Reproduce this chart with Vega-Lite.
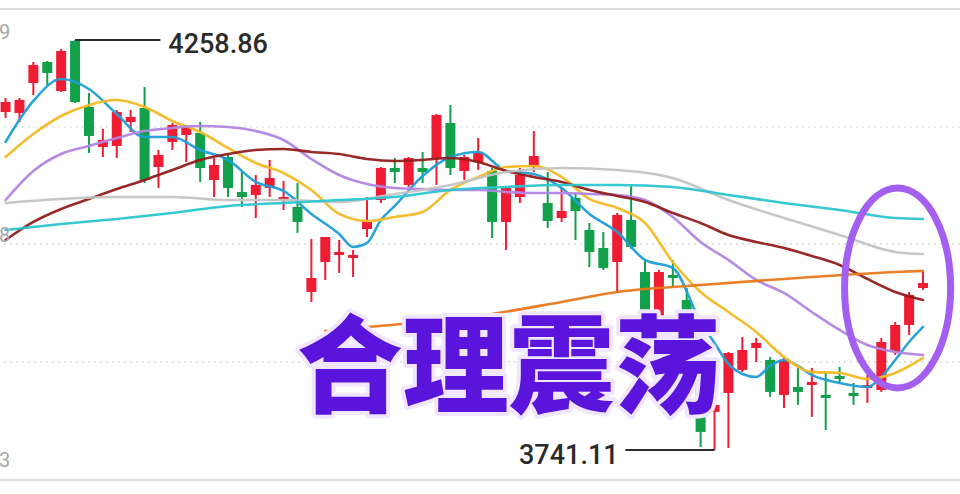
{
  "$schema": "https://vega.github.io/schema/vega-lite/v6.json",
  "width": 960,
  "height": 494,
  "autosize": {"type": "none"},
  "padding": 0,
  "background": "white",
  "config": {"view": {"stroke": null}},
  "datasets": {
    "candles": [
      {"i":0,"o":4168.0,"c":4180.6,"h":4185.6,"l":4160.4},
      {"i":1,"o":4166.7,"c":4183.1,"h":4185.6,"l":4155.3},
      {"i":2,"o":4204.6,"c":4227.3,"h":4231.1,"l":4189.4},
      {"i":3,"o":4231.1,"c":4217.2,"h":4232.4,"l":4202.1},
      {"i":4,"o":4194.5,"c":4245.0,"h":4247.5,"l":4193.2},
      {"i":5,"o":4257.6,"c":4180.6,"h":4258.86,"l":4179.3},
      {"i":6,"o":4174.3,"c":4137.7,"h":4192.0,"l":4116.2},
      {"i":7,"o":4123.8,"c":4132.6,"h":4146.5,"l":4111.1},
      {"i":8,"o":4125.0,"c":4168.0,"h":4170.5,"l":4109.9},
      {"i":9,"o":4155.3,"c":4161.7,"h":4170.5,"l":4142.7},
      {"i":10,"o":4173.0,"c":4082.1,"h":4199.5,"l":4078.3},
      {"i":11,"o":4098.5,"c":4113.7,"h":4120.0,"l":4072.0},
      {"i":12,"o":4130.1,"c":4151.5,"h":4154.1,"l":4120.0},
      {"i":13,"o":4138.9,"c":4149.0,"h":4151.5,"l":4104.8},
      {"i":14,"o":4141.4,"c":4097.2,"h":4155.3,"l":4079.6},
      {"i":15,"o":4082.1,"c":4101.0,"h":4109.9,"l":4060.6},
      {"i":16,"o":4111.1,"c":4072.0,"h":4116.2,"l":4060.6},
      {"i":17,"o":4066.9,"c":4060.6,"h":4092.2,"l":4048.0},
      {"i":18,"o":4063.2,"c":4075.8,"h":4088.4,"l":4034.1},
      {"i":19,"o":4072.0,"c":4084.6,"h":4107.4,"l":4060.6},
      {"i":20,"o":4056.8,"c":4060.6,"h":4080.8,"l":4044.2},
      {"i":21,"o":4048.0,"c":4029.1,"h":4078.3,"l":4015.2},
      {"i":22,"o":3940.7,"c":3958.3,"h":4007.6,"l":3928.0},
      {"i":23,"o":3978.5,"c":4010.1,"h":4010.1,"l":3955.8},
      {"i":24,"o":3987.4,"c":3991.2,"h":4006.3,"l":3964.7},
      {"i":25,"o":3983.6,"c":3987.4,"h":3993.7,"l":3959.6},
      {"i":26,"o":4020.2,"c":4029.1,"h":4060.6,"l":4010.1},
      {"i":27,"o":4056.8,"c":4097.2,"h":4098.5,"l":4053.1},
      {"i":28,"o":4097.2,"c":4092.2,"h":4109.9,"l":4078.3},
      {"i":29,"o":4075.8,"c":4109.9,"h":4111.1,"l":4073.3},
      {"i":30,"o":4097.2,"c":4092.2,"h":4117.5,"l":4078.3},
      {"i":31,"o":4109.9,"c":4164.2,"h":4165.4,"l":4075.8},
      {"i":32,"o":4154.1,"c":4097.2,"h":4176.8,"l":4088.4},
      {"i":33,"o":4093.5,"c":4111.1,"h":4113.7,"l":4082.1},
      {"i":34,"o":4104.8,"c":4116.2,"h":4135.1,"l":4094.7},
      {"i":35,"o":4093.5,"c":4029.1,"h":4097.2,"l":4008.9},
      {"i":36,"o":4029.1,"c":4072.0,"h":4073.3,"l":3993.7},
      {"i":37,"o":4060.6,"c":4088.4,"h":4097.2,"l":4053.1},
      {"i":38,"o":4098.5,"c":4112.4,"h":4144.0,"l":4092.2},
      {"i":39,"o":4053.1,"c":4030.3,"h":4092.2,"l":4021.5},
      {"i":40,"o":4034.1,"c":4042.9,"h":4072.0,"l":4029.1},
      {"i":41,"o":4059.4,"c":4042.9,"h":4064.4,"l":4006.3},
      {"i":42,"o":4019.0,"c":3991.2,"h":4027.8,"l":3972.2},
      {"i":43,"o":3996.2,"c":3971.0,"h":4016.4,"l":3968.4},
      {"i":44,"o":3978.5,"c":4037.9,"h":4040.4,"l":3939.4},
      {"i":45,"o":4031.6,"c":3997.5,"h":4075.8,"l":3995.0},
      {"i":46,"o":3965.9,"c":3914.1,"h":3979.8,"l":3904.0},
      {"i":47,"o":3909.1,"c":3965.9,"h":3968.4,"l":3905.3},
      {"i":48,"o":3962.1,"c":3958.3,"h":3981.1,"l":3947.0},
      {"i":49,"o":3930.6,"c":3867.4,"h":3945.7,"l":3861.1},
      {"i":50,"o":3858.6,"c":3763.9,"h":3867.4,"l":3744.9},
      {"i":51,"o":3789.1,"c":3798.0,"h":3832.1,"l":3741.11},
      {"i":52,"o":3813.1,"c":3863.6,"h":3864.9,"l":3743.7},
      {"i":53,"o":3842.2,"c":3867.4,"h":3883.8,"l":3839.7},
      {"i":54,"o":3869.9,"c":3876.3,"h":3882.6,"l":3852.3},
      {"i":55,"o":3854.8,"c":3814.4,"h":3858.6,"l":3808.1},
      {"i":56,"o":3810.6,"c":3854.8,"h":3857.3,"l":3794.2},
      {"i":57,"o":3820.7,"c":3814.4,"h":3844.7,"l":3798.0},
      {"i":58,"o":3823.2,"c":3827.0,"h":3844.7,"l":3782.8},
      {"i":59,"o":3810.6,"c":3806.8,"h":3838.4,"l":3766.4},
      {"i":60,"o":3834.6,"c":3830.8,"h":3846.0,"l":3825.7},
      {"i":61,"o":3813.1,"c":3809.3,"h":3825.7,"l":3798.0},
      {"i":62,"o":3819.4,"c":3823.2,"h":3835.9,"l":3800.5},
      {"i":63,"o":3816.9,"c":3877.5,"h":3882.6,"l":3814.4},
      {"i":64,"o":3864.9,"c":3899.0,"h":3902.8,"l":3861.1},
      {"i":65,"o":3899.0,"c":3936.9,"h":3940.7,"l":3886.4},
      {"i":66,"o":3945.7,"c":3952.0,"h":3965.9,"l":3943.2}
    ],
    "ma": [
      {"s":"MA5","i":0,"v":4130.1},{"s":"MA5","i":2,"v":4181.9},{"s":"MA5","i":4,"v":4209.6},{"s":"MA5","i":6,"v":4197.0},
      {"s":"MA5","i":8,"v":4165.4},{"s":"MA5","i":10,"v":4136.4},{"s":"MA5","i":12,"v":4136.4},{"s":"MA5","i":14,"v":4120.0},
      {"s":"MA5","i":16,"v":4107.4},{"s":"MA5","i":18,"v":4079.6},{"s":"MA5","i":20,"v":4068.2},{"s":"MA5","i":22,"v":4039.2},
      {"s":"MA5","i":24,"v":4013.9},{"s":"MA5","i":25,"v":3997.5},{"s":"MA5","i":26,"v":4002.5},{"s":"MA5","i":27,"v":4031.6},
      {"s":"MA5","i":28,"v":4049.3},{"s":"MA5","i":30,"v":4087.1},{"s":"MA5","i":32,"v":4111.1},{"s":"MA5","i":34,"v":4117.5},
      {"s":"MA5","i":36,"v":4093.5},{"s":"MA5","i":38,"v":4089.7},{"s":"MA5","i":40,"v":4072.0},{"s":"MA5","i":42,"v":4039.2},
      {"s":"MA5","i":44,"v":4016.4},{"s":"MA5","i":46,"v":3981.1},{"s":"MA5","i":48,"v":3971.0},{"s":"MA5","i":50,"v":3902.8},
      {"s":"MA5","i":51,"v":3876.3},{"s":"MA5","i":52,"v":3849.7},{"s":"MA5","i":53,"v":3837.1},{"s":"MA5","i":54,"v":3833.3},
      {"s":"MA5","i":55,"v":3847.2},{"s":"MA5","i":56,"v":3854.8},{"s":"MA5","i":57,"v":3847.2},{"s":"MA5","i":58,"v":3835.9},
      {"s":"MA5","i":60,"v":3825.7},{"s":"MA5","i":62,"v":3820.7},{"s":"MA5","i":63,"v":3833.3},{"s":"MA5","i":64,"v":3854.8},
      {"s":"MA5","i":65,"v":3877.5},{"s":"MA5","i":66,"v":3896.5},

      {"s":"MA10","i":0,"v":4111.1},{"s":"MA10","i":2,"v":4140.2},{"s":"MA10","i":4,"v":4162.9},{"s":"MA10","i":6,"v":4176.8},
      {"s":"MA10","i":8,"v":4183.1},{"s":"MA10","i":10,"v":4174.3},{"s":"MA10","i":12,"v":4156.6},{"s":"MA10","i":14,"v":4142.7},
      {"s":"MA10","i":16,"v":4122.5},{"s":"MA10","i":18,"v":4103.6},{"s":"MA10","i":20,"v":4090.9},{"s":"MA10","i":22,"v":4069.5},
      {"s":"MA10","i":24,"v":4039.2},{"s":"MA10","i":26,"v":4030.3},{"s":"MA10","i":28,"v":4035.4},{"s":"MA10","i":30,"v":4041.7},
      {"s":"MA10","i":32,"v":4069.5},{"s":"MA10","i":34,"v":4085.9},{"s":"MA10","i":36,"v":4098.5},{"s":"MA10","i":38,"v":4099.8},
      {"s":"MA10","i":40,"v":4085.9},{"s":"MA10","i":42,"v":4058.1},{"s":"MA10","i":44,"v":4046.7},{"s":"MA10","i":46,"v":4027.8},
      {"s":"MA10","i":48,"v":3978.5},{"s":"MA10","i":50,"v":3940.7},{"s":"MA10","i":52,"v":3915.4},{"s":"MA10","i":54,"v":3890.2},
      {"s":"MA10","i":56,"v":3858.6},{"s":"MA10","i":58,"v":3839.7},{"s":"MA10","i":60,"v":3838.4},{"s":"MA10","i":62,"v":3830.8},
      {"s":"MA10","i":64,"v":3838.4},{"s":"MA10","i":66,"v":3857.3},

      {"s":"MA20","i":0,"v":4056.8},{"s":"MA20","i":2,"v":4093.5},{"s":"MA20","i":4,"v":4114.9},{"s":"MA20","i":6,"v":4125.0},
      {"s":"MA20","i":8,"v":4135.1},{"s":"MA20","i":10,"v":4143.9},{"s":"MA20","i":12,"v":4147.8},{"s":"MA20","i":14,"v":4150.3},
      {"s":"MA20","i":16,"v":4149.0},{"s":"MA20","i":18,"v":4143.9},{"s":"MA20","i":20,"v":4132.6},{"s":"MA20","i":22,"v":4108.6},
      {"s":"MA20","i":24,"v":4088.4},{"s":"MA20","i":26,"v":4077.0},{"s":"MA20","i":28,"v":4072.0},{"s":"MA20","i":30,"v":4070.7},
      {"s":"MA20","i":32,"v":4069.5},{"s":"MA20","i":34,"v":4069.5},{"s":"MA20","i":36,"v":4066.9},{"s":"MA20","i":38,"v":4065.7},
      {"s":"MA20","i":40,"v":4065.7},{"s":"MA20","i":42,"v":4064.4},{"s":"MA20","i":44,"v":4063.2},{"s":"MA20","i":46,"v":4056.8},
      {"s":"MA20","i":48,"v":4035.4},{"s":"MA20","i":50,"v":4003.8},{"s":"MA20","i":52,"v":3981.1},{"s":"MA20","i":54,"v":3955.8},
      {"s":"MA20","i":56,"v":3939.4},{"s":"MA20","i":58,"v":3915.4},{"s":"MA20","i":60,"v":3892.7},{"s":"MA20","i":62,"v":3873.7},
      {"s":"MA20","i":64,"v":3864.9},{"s":"MA20","i":66,"v":3861.1},

      {"s":"MA30","i":0,"v":4006.3},{"s":"MA30","i":2,"v":4029.1},{"s":"MA30","i":4,"v":4045.5},{"s":"MA30","i":6,"v":4058.1},
      {"s":"MA30","i":8,"v":4070.7},{"s":"MA30","i":10,"v":4082.1},{"s":"MA30","i":12,"v":4094.7},{"s":"MA30","i":14,"v":4107.4},
      {"s":"MA30","i":16,"v":4114.9},{"s":"MA30","i":18,"v":4120.0},{"s":"MA30","i":20,"v":4121.2},{"s":"MA30","i":22,"v":4117.5},
      {"s":"MA30","i":24,"v":4114.9},{"s":"MA30","i":26,"v":4108.6},{"s":"MA30","i":28,"v":4106.1},{"s":"MA30","i":30,"v":4107.4},
      {"s":"MA30","i":32,"v":4109.9},{"s":"MA30","i":34,"v":4104.8},{"s":"MA30","i":36,"v":4093.5},{"s":"MA30","i":38,"v":4085.9},
      {"s":"MA30","i":40,"v":4079.6},{"s":"MA30","i":42,"v":4069.5},{"s":"MA30","i":44,"v":4061.9},{"s":"MA30","i":46,"v":4054.3},
      {"s":"MA30","i":48,"v":4040.4},{"s":"MA30","i":50,"v":4027.8},{"s":"MA30","i":52,"v":4012.6},{"s":"MA30","i":54,"v":4003.8},
      {"s":"MA30","i":56,"v":3996.2},{"s":"MA30","i":58,"v":3986.1},{"s":"MA30","i":60,"v":3974.8},{"s":"MA30","i":62,"v":3957.1},
      {"s":"MA30","i":64,"v":3940.7},{"s":"MA30","i":66,"v":3930.6},

      {"s":"MA60","i":0,"v":4053.1},{"s":"MA60","i":4,"v":4058.1},{"s":"MA60","i":8,"v":4060.6},{"s":"MA60","i":12,"v":4060.6},
      {"s":"MA60","i":16,"v":4056.8},{"s":"MA60","i":20,"v":4056.8},{"s":"MA60","i":24,"v":4054.3},{"s":"MA60","i":28,"v":4064.4},
      {"s":"MA60","i":32,"v":4075.8},{"s":"MA60","i":36,"v":4092.2},{"s":"MA60","i":40,"v":4097.2},{"s":"MA60","i":44,"v":4094.7},
      {"s":"MA60","i":48,"v":4084.6},{"s":"MA60","i":52,"v":4056.8},{"s":"MA60","i":56,"v":4034.1},{"s":"MA60","i":60,"v":4012.6},
      {"s":"MA60","i":64,"v":3991.2},{"s":"MA60","i":66,"v":3988.6},

      {"s":"MA120","i":0,"v":4019.0},{"s":"MA120","i":4,"v":4026.5},{"s":"MA120","i":8,"v":4032.8},{"s":"MA120","i":12,"v":4040.4},
      {"s":"MA120","i":16,"v":4049.3},{"s":"MA120","i":20,"v":4053.1},{"s":"MA120","i":24,"v":4056.8},{"s":"MA120","i":28,"v":4060.6},
      {"s":"MA120","i":32,"v":4069.5},{"s":"MA120","i":36,"v":4073.3},{"s":"MA120","i":40,"v":4075.8},{"s":"MA120","i":44,"v":4075.8},
      {"s":"MA120","i":48,"v":4073.3},{"s":"MA120","i":52,"v":4063.2},{"s":"MA120","i":56,"v":4053.1},{"s":"MA120","i":60,"v":4044.2},
      {"s":"MA120","i":64,"v":4034.1},{"s":"MA120","i":66,"v":4032.8},

      {"s":"MA250","i":23,"v":3891.4},{"s":"MA250","i":26,"v":3896.5},{"s":"MA250","i":33,"v":3907.8},{"s":"MA250","i":40,"v":3928.0},
      {"s":"MA250","i":44,"v":3940.7},{"s":"MA250","i":50,"v":3949.5},{"s":"MA250","i":57,"v":3958.3},{"s":"MA250","i":64,"v":3965.9},
      {"s":"MA250","i":66,"v":3967.2}
    ],
    "grid": [{"y": 4149.0}, {"y": 4001.3}, {"y": 3852.3}],
    "frame": [{"y": 4298.0}, {"y": 3703.3}],
    "extremes": [
      {"x": 5, "x2": 11.14, "y": 4258.86},
      {"x": 44.59, "x2": 51, "y": 3741.11}
    ],
    "hiLabel": [{"tx": 11.71, "ty": 4252.6, "label": "4258.86"}],
    "loLabel": [{"tx": 44.1, "ty": 3732.9, "label": "3741.11"}],
    "edge": [
      {"x": 0.33, "y": 4267.1, "t": "9"},
      {"x": 0.33, "y": 4010.8, "t": "8"},
      {"x": 0.33, "y": 3726.6, "t": "3"}
    ],
    "title": [{"x": 36.2, "y": 3839.7, "t": "合理震荡"}],
    "ring": [{"x": 64.17, "y": 3945.7}]
  },
  "layer": [
    {
      "data": {"name": "grid"},
      "mark": {"type": "rule", "color": "#d2d2d2", "strokeWidth": 1.2, "strokeDash": [2, 4]},
      "encoding": {
        "y": {"field": "y", "type": "quantitative", "scale": {"domain": [3685.5, 4309.4], "nice": false, "zero": false}, "axis": null}
      }
    },
    {
      "data": {"name": "frame"},
      "mark": {"type": "rule", "color": "#dedede", "strokeWidth": 2},
      "encoding": {
        "y": {"field": "y", "type": "quantitative", "scale": {"domain": [3685.5, 4309.4], "nice": false, "zero": false}, "axis": null}
      }
    },
    {
      "data": {"name": "candles"},
      "mark": {"type": "rule", "strokeWidth": 2},
      "encoding": {
        "x": {"field": "i", "type": "quantitative", "scale": {"domain": [-0.04, 68.3], "nice": false, "zero": false}, "axis": null},
        "y": {"field": "l", "type": "quantitative", "scale": {"domain": [3685.5, 4309.4], "nice": false, "zero": false}, "axis": null},
        "y2": {"field": "h"},
        "color": {"condition": {"test": "datum.c >= datum.o", "value": "#ef1c33"}, "value": "#12a04b"}
      }
    },
    {
      "data": {"name": "candles"},
      "mark": {"type": "bar", "width": 10},
      "encoding": {
        "x": {"field": "i", "type": "quantitative", "scale": {"domain": [-0.04, 68.3], "nice": false, "zero": false}, "axis": null},
        "y": {"field": "o", "type": "quantitative", "scale": {"domain": [3685.5, 4309.4], "nice": false, "zero": false}, "axis": null},
        "y2": {"field": "c"},
        "color": {"condition": {"test": "datum.c >= datum.o", "value": "#ef1c33"}, "value": "#12a04b"}
      }
    },
    {
      "data": {"name": "ma"},
      "mark": {"type": "line", "strokeWidth": 2.6, "interpolate": "monotone", "strokeCap": "round", "opacity": 0.95},
      "encoding": {
        "x": {"field": "i", "type": "quantitative", "scale": {"domain": [-0.04, 68.3], "nice": false, "zero": false}, "axis": null},
        "y": {"field": "v", "type": "quantitative", "scale": {"domain": [3685.5, 4309.4], "nice": false, "zero": false}, "axis": null},
        "color": {
          "field": "s", "type": "nominal", "legend": null,
          "scale": {
            "domain": ["MA120", "MA60", "MA250", "MA30", "MA20", "MA10", "MA5"],
            "range": ["#2cc6cf", "#c4c4c4", "#e8781c", "#941c1c", "#b385e4", "#f3b924", "#1f9ed6"]
          }
        },
        "order": {"field": "i", "type": "quantitative"}
      }
    },
    {
      "data": {"name": "extremes"},
      "mark": {"type": "rule", "color": "#2b2b2b", "strokeWidth": 2},
      "encoding": {
        "x": {"field": "x", "type": "quantitative", "scale": {"domain": [-0.04, 68.3], "nice": false, "zero": false}, "axis": null},
        "x2": {"field": "x2"},
        "y": {"field": "y", "type": "quantitative", "scale": {"domain": [3685.5, 4309.4], "nice": false, "zero": false}, "axis": null}
      }
    },
    {
      "data": {"name": "hiLabel"},
      "mark": {"type": "text", "font": "Roboto", "fontSize": 27, "fontWeight": 500, "color": "#2b2b2b", "baseline": "middle", "align": "left"},
      "encoding": {
        "x": {"field": "tx", "type": "quantitative", "scale": {"domain": [-0.04, 68.3], "nice": false, "zero": false}, "axis": null},
        "y": {"field": "ty", "type": "quantitative", "scale": {"domain": [3685.5, 4309.4], "nice": false, "zero": false}, "axis": null},
        "text": {"field": "label"}
      }
    },
    {
      "data": {"name": "loLabel"},
      "mark": {"type": "text", "font": "Roboto", "fontSize": 27, "fontWeight": 500, "color": "#2b2b2b", "baseline": "middle", "align": "right"},
      "encoding": {
        "x": {"field": "tx", "type": "quantitative", "scale": {"domain": [-0.04, 68.3], "nice": false, "zero": false}, "axis": null},
        "y": {"field": "ty", "type": "quantitative", "scale": {"domain": [3685.5, 4309.4], "nice": false, "zero": false}, "axis": null},
        "text": {"field": "label"}
      }
    },
    {
      "data": {"name": "edge"},
      "mark": {"type": "text", "font": "Roboto", "fontSize": 20, "color": "#a8a8a8", "baseline": "middle", "align": "right"},
      "encoding": {
        "x": {"field": "x", "type": "quantitative", "scale": {"domain": [-0.04, 68.3], "nice": false, "zero": false}, "axis": null},
        "y": {"field": "y", "type": "quantitative", "scale": {"domain": [3685.5, 4309.4], "nice": false, "zero": false}, "axis": null},
        "text": {"field": "t"}
      }
    },
    {
      "data": {"name": "title"},
      "mark": {"type": "text", "font": "Noto Sans CJK SC", "fontWeight": 900, "fontSize": 106, "baseline": "middle", "align": "center", "fill": "#f1e6ff", "stroke": "#f1e6ff", "strokeWidth": 8, "strokeJoin": "round"},
      "encoding": {
        "x": {"field": "x", "type": "quantitative", "scale": {"domain": [-0.04, 68.3], "nice": false, "zero": false}, "axis": null},
        "y": {"field": "y", "type": "quantitative", "scale": {"domain": [3685.5, 4309.4], "nice": false, "zero": false}, "axis": null},
        "text": {"field": "t"}
      }
    },
    {
      "data": {"name": "title"},
      "mark": {"type": "text", "font": "Noto Sans CJK SC", "fontWeight": 900, "fontSize": 106, "baseline": "middle", "align": "center", "fill": "#5a14dc"},
      "encoding": {
        "x": {"field": "x", "type": "quantitative", "scale": {"domain": [-0.04, 68.3], "nice": false, "zero": false}, "axis": null},
        "y": {"field": "y", "type": "quantitative", "scale": {"domain": [3685.5, 4309.4], "nice": false, "zero": false}, "axis": null},
        "text": {"field": "t"}
      }
    },
    {
      "data": {"name": "ring"},
      "mark": {"type": "point", "shape": "M-0.53,0A0.53,1,0,1,0,0.53,0A0.53,1,0,1,0,-0.53,0Z", "size": 40000, "filled": false, "stroke": "#a35ff0", "strokeWidth": 7, "opacity": 1},
      "encoding": {
        "x": {"field": "x", "type": "quantitative", "scale": {"domain": [-0.04, 68.3], "nice": false, "zero": false}, "axis": null},
        "y": {"field": "y", "type": "quantitative", "scale": {"domain": [3685.5, 4309.4], "nice": false, "zero": false}, "axis": null}
      }
    }
  ]
}
